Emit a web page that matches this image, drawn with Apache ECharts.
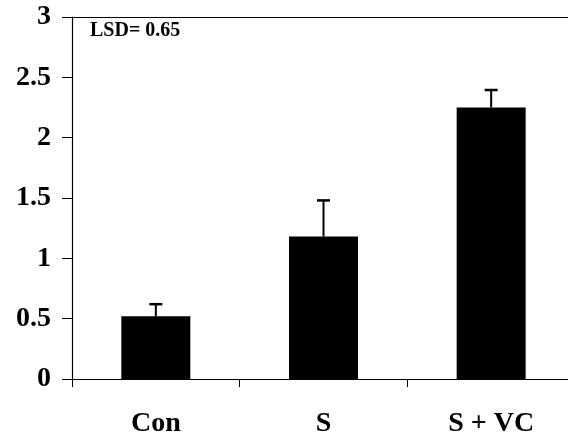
<!DOCTYPE html>
<html>
<head>
<meta charset="utf-8">
<script src="https://cdn.jsdelivr.net/npm/echarts@6/dist/echarts.min.js"></script>
<style>html,body{margin:0;padding:0;background:#fff;overflow:hidden;width:568px;height:441px;}#c{width:575px;height:441px;}</style>
</head>
<body>
<div id="c"></div>
<script>
var categories = ['Con', 'S', 'S + VC'];
var means = [0.52, 1.18, 2.25];
var errors = [0.10, 0.30, 0.145];
var yTicks = [0, 0.5, 1, 1.5, 2, 2.5, 3];
var note = 'LSD= 0.65';

var font = '"Liberation Serif", "Times New Roman", serif';
var chart = echarts.init(document.getElementById('c'));
var errData = categories.map(function (c, i) { return [i, means[i], means[i] + errors[i]]; });

chart.setOption({
  animation: false,
  grid: { left: 72, top: 17, right: 0, bottom: 62 },
  xAxis: [{
    type: 'category',
    data: categories,
    axisLine: { lineStyle: { color: '#000', width: 1.2 } },
    axisTick: { show: true, length: 8, inside: false, alignWithLabel: false, lineStyle: { color: '#000' } },
    axisLabel: { color: '#000', fontFamily: font, fontWeight: 'bold', fontSize: 28, margin: 31 }
  }, {
    type: 'category',
    position: 'top',
    data: categories,
    axisLine: { show: true, onZero: false, lineStyle: { color: '#000', width: 1.2 } },
    axisTick: { show: false },
    axisLabel: { show: false }
  }],
  yAxis: {
    type: 'value',
    min: 0, max: 3, interval: 0.5,
    axisLine: { show: true, lineStyle: { color: '#000', width: 1.2 } },
    axisTick: { show: true, length: 10, lineStyle: { color: '#000' } },
    splitLine: { show: false },
    axisLabel: {
      color: '#000', fontFamily: font, fontWeight: 'bold', fontSize: 28, margin: 21,
      formatter: function (v) { return yTicks.indexOf(v) >= 0 ? String(v) : ''; }
    }
  },
  series: [{
    type: 'bar',
    data: means,
    barWidth: 69,
    itemStyle: { color: '#000' }
  }, {
    type: 'custom',
    data: errData,
    z: 3,
    renderItem: function (params, api) {
      var x = api.coord([api.value(0), api.value(1)]);
      var top = api.coord([api.value(0), api.value(2)]);
      var half = 6.5;
      return {
        type: 'group',
        children: [{
          type: 'line',
          shape: { x1: x[0], y1: x[1], x2: top[0], y2: top[1] },
          style: { stroke: '#000', lineWidth: 2 }
        }, {
          type: 'line',
          shape: { x1: top[0] - half, y1: top[1], x2: top[0] + half, y2: top[1] },
          style: { stroke: '#000', lineWidth: 2.5 }
        }]
      };
    }
  }],
  graphic: [{
    type: 'text',
    left: 90,
    top: 21,
    style: { text: note, fontFamily: font, fontWeight: 'bold', fontSize: 20, fill: '#000' }
  }]
});
</script>
</body>
</html>
